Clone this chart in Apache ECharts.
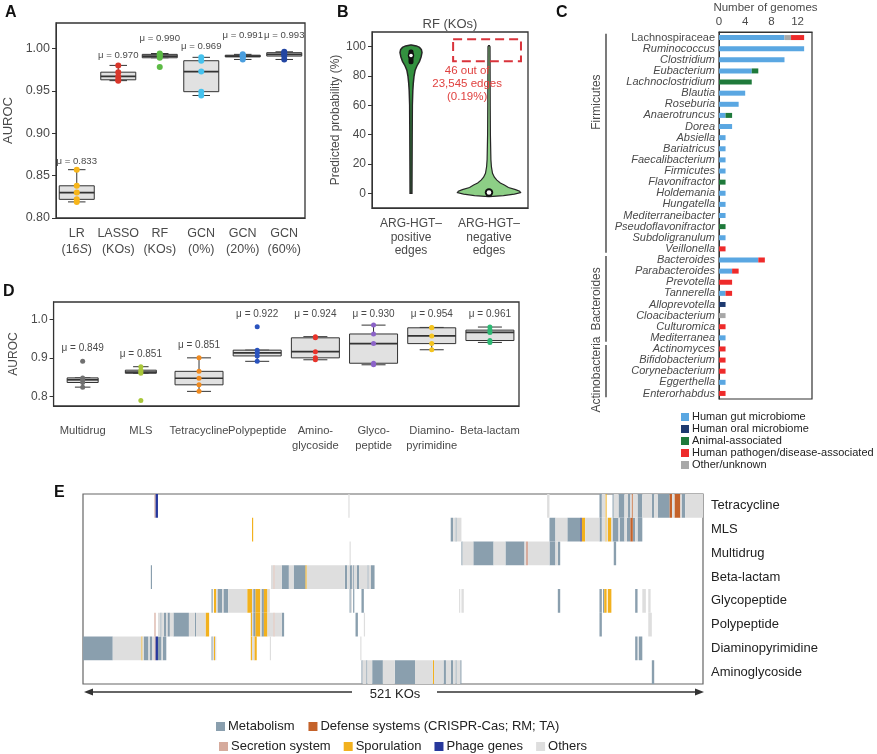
<!DOCTYPE html>
<html><head><meta charset="utf-8">
<script src="https://cdn.jsdelivr.net/npm/echarts@6/dist/echarts.min.js"></script>
<style>html,body{margin:0;padding:0;background:#fff}#c{width:877px;height:754px}</style>
</head><body><div id="c"></div><script>
// ---------------- DATA ----------------
// Panel A
const catsA = ['LR\n(16S)','LASSO\n(KOs)','RF\n(KOs)','GCN\n(0%)','GCN\n(20%)','GCN\n(60%)'];
const pointsA = [
  [0.857,0.838,0.830,0.822,0.819],
  [0.980,0.972,0.967,0.963,0.962],
  [0.994,0.993,0.991,0.989,0.978],
  [0.9895,0.9855,0.9727,0.949,0.9445],
  [0.993,0.992,0.991,0.990,0.987],
  [0.996,0.995,0.993,0.991,0.987]
];
const meansA = [0.833,0.970,0.990,0.969,0.991,0.993];

// Panel B
const catsB = ['ARG-HGT\u2013\npositive\nedges','ARG-HGT\u2013\nnegative\nedges'];
const posLevels  = [0,20,40,60,70,75,80,84,87,90,93,96,98,99.5,100.5,101.2];
const posDensity = [0.016,0.02,0.024,0.03,0.045,0.06,0.085,0.12,0.18,0.26,0.31,0.34,0.32,0.26,0.16,0];
const negLevels  = [-2.3,-1.5,-0.5,0.5,1.5,2.5,4,5.7,7,9,11,13.7,18,23,40,60,80,100,100.8];
const negDensity = [0,0.45,0.8,1,0.97,0.84,0.61,0.48,0.35,0.24,0.16,0.1,0.065,0.048,0.032,0.026,0.023,0.02,0];
const quartB = [[88,94,98],[0,0.6,1.8]];
const highBoxB = [90,105];
const noteB = '46 out of\n23,545 edges\n(0.19%)';

// Panel C
const generaC = ['Lachnospiraceae','Ruminococcus','Clostridium','Eubacterium','Lachnoclostridium','Blautia','Roseburia','Anaerotruncus','Dorea','Absiella','Bariatricus','Faecalibacterium','Firmicutes','Flavonifractor','Holdemania','Hungatella','Mediterraneibacter','Pseudoflavonifractor','Subdoligranulum','Veillonella','Bacteroides','Parabacteroides','Prevotella','Tannerella','Alloprevotella','Cloacibacterium','Culturomica','Mediterranea','Actinomyces','Bifidobacterium','Corynebacterium','Eggerthella','Enterorhabdus'];
const gutC      = [10,13,10,5,0,4,3,1,2,1,1,1,1,0,1,1,1,0,1,0, 6,2,0,1,0,0,0,1, 0,0,0,1,0];
const oralC     = [0,0,0,0,0,0,0,0,0,0,0,0,0,0,0,0,0,0,0,0, 0,0,0,0,1,0,0,0, 0,0,0,0,0];
const animalC   = [0,0,0,1,5,0,0,1,0,0,0,0,0,1,0,0,0,1,0,0, 0,0,0,0,0,0,0,0, 0,0,0,0,0];
const otherC    = [1,0,0,0,0,0,0,0,0,0,0,0,0,0,0,0,0,0,0,0, 0,0,0,0,0,1,0,0, 0,0,0,0,0];
const pathogenC = [2,0,0,0,0,0,0,0,0,0,0,0,0,0,0,0,0,0,0,1, 1,1,2,1,0,0,1,0, 1,1,1,0,1];
const phylaC = [['Firmicutes',0,19,5.8],['Bacteroides',20,27,23.5],['Actinobacteria',28,32,30.3]];
const nonItalicC = ['Lachnospiraceae'];

// Panel D
const catsD = ['Multidrug','MLS','Tetracycline','Polypeptide','Amino-\nglycoside','Glyco-\npeptide','Diamino-\npyrimidine','Beta-lactam'];
const pointsD = [
  [0.891,0.848,0.843,0.836,0.824],
  [0.877,0.868,0.863,0.860,0.789],
  [0.900,0.865,0.847,0.830,0.813],
  [0.981,0.920,0.913,0.905,0.891],
  [0.955,0.952,0.916,0.900,0.895],
  [0.985,0.962,0.937,0.886,0.882],
  [0.979,0.978,0.957,0.937,0.921],
  [0.980,0.972,0.966,0.945,0.940]
];
const meansD = [0.849,0.851,0.851,0.922,0.924,0.930,0.954,0.961];

// Panel E : KO segments per ARG class [startKO, endKO, functionalCategory]
const totalKOs = 521;
const rowsE = ['Tetracycline','MLS','Multidrug','Beta-lactam','Glycopeptide','Polypeptide','Diaminopyrimidine','Aminoglycoside'];
const funcCatsE = ['Metabolism','Defense systems (CRISPR-Cas; RM; TA)','Secretion system','Sporulation','Phage genes','Others'];
const segTetracycline = [[60,61,2],[61,63,4],[223,224,5],[390,392,5],[434,436,0],[436,439,5],[439,440,3],[445,446,0],[446,450,5],[450,455,0],[455,458,5],[458,460,0],[460,461,5],[461,462,1],[462,466,5],[466,470,0],[470,478,5],[478,480,0],[480,483,5],[483,493,0],[493,495,1],[495,497,5],[497,502,1],[502,503,5],[503,506,0],[506,521,5]];
const segMLS = [[142,143,3],[309,311,0],[311,313,5],[313,314,0],[314,318,5],[392,397,0],[397,407,5],[407,418,0],[418,419,4],[419,422,3],[422,434,5],[434,436,0],[436,439,5],[439,440,3],[440,441,5],[441,444,3],[444,445,5],[445,450,0],[450,451,5],[451,455,0],[455,457,5],[457,460,0],[460,462,1],[462,464,0],[464,466,5],[466,470,0]];
const segMultidrug = [[224,225,5],[318,319,0],[319,328,5],[328,345,0],[345,355,5],[355,371,0],[371,372,5],[372,374,2],[374,392,5],[392,397,0],[397,399,5],[399,401,0],[446,448,0]];
const segBetaLactam = [[57,58,0],[158,160,5],[160,161,2],[161,167,5],[167,173,0],[173,177,5],[177,187,0],[187,188,3],[188,220,5],[220,222,0],[222,224,5],[224,226,0],[226,227,5],[227,228,0],[228,230,5],[230,232,0],[232,239,5],[239,240,0],[240,242,5],[242,245,0]];
const segGlycopeptide = [[108,109,0],[110,112,3],[112,113,5],[113,117,0],[117,118,5],[118,122,0],[122,138,5],[138,142,3],[142,143,5],[143,145,0],[145,149,3],[149,150,5],[150,152,0],[152,155,3],[155,157,5],[224,225,0],[225,226,5],[227,228,0],[234,236,0],[316,317,5],[318,320,5],[399,401,0],[434,436,0],[437,438,0],[438,440,3],[441,444,3],[464,466,0],[470,473,5],[475,477,5]];
const segPolypeptide = [[60,61,2],[63,65,5],[65,66,0],[66,68,5],[68,70,0],[70,71,5],[71,73,0],[73,76,5],[76,89,0],[89,94,5],[94,95,0],[95,103,5],[103,106,3],[141,142,3],[142,143,5],[143,145,0],[145,149,3],[149,150,5],[150,152,0],[152,155,3],[155,160,5],[160,161,2],[161,167,5],[167,169,0],[229,231,0],[236,237,5],[434,436,0],[475,478,5]];
const segDiaminopyrimidine = [[0,25,0],[25,49,5],[49,50,3],[50,51,5],[51,55,0],[55,56,5],[56,58,0],[58,60,5],[60,61,2],[61,63,4],[63,66,0],[66,67,5],[67,70,0],[108,109,0],[109,110,5],[110,111,3],[111,112,5],[141,142,3],[142,144,5],[144,146,3],[157,158,5],[233,234,5],[464,466,0],[467,470,0]];
const segAminoglycoside = [[234,235,0],[235,238,5],[238,239,0],[239,243,5],[243,252,0],[252,262,5],[262,279,0],[279,294,5],[294,295,3],[295,303,5],[303,305,0],[305,309,5],[309,311,0],[311,313,5],[313,314,0],[314,317,5],[317,318,0],[478,480,0]];
const segsE = [segTetracycline,segMLS,segMultidrug,segBetaLactam,segGlycopeptide,segPolypeptide,segDiaminopyrimidine,segAminoglycoside];

// ---------------- STYLE ----------------
const FONT = "'Liberation Sans', Arial, Helvetica, sans-serif";
const LBL = '#4a4a4a';
const colorsA = ['#F7B519','#D9372B','#5CBA45','#45C2EE','#4A9EDE','#2346A2'];
const colorsD = ['#707070','#A9C73A','#F08A1E','#2A53BE','#E8342B','#8C63C8','#F4C41F','#2DB873'];
const colorsC = {gut:'#5AA7E2', oral:'#1E3A70', animal:'#1F7A3B', path:'#EE2B2B', other:'#A8A8A8'};
const colorsE = ['#8A9FAE','#C4622A','#D6AB9D','#F2B11E','#27389C','#DEDEDE'];
const liftA = [0.010,0.012,0.018,0.013,0.022,0.019];

function boxStats(pts){
  const s = pts.slice().sort((a,b)=>a-b), n = s.length;
  const q = p => { const h=(n-1)*p, lo=Math.floor(h); return lo+1<n ? s[lo]+(h-lo)*(s[lo+1]-s[lo]) : s[lo]; };
  const q1=q(0.25), md=q(0.5), q3=q(0.75), iqr=q3-q1;
  const lo = s.find(v=>v>=q1-1.5*iqr);
  const hi = s.slice().reverse().find(v=>v<=q3+1.5*iqr);
  return [lo,q1,md,q3,hi];
}
function boxRenderer(widthFn){
  return function(params, api){
    const i = api.value(0);
    const v = [1,2,3,4,5].map(k=>api.value(k));
    const w = widthFn(i);
    const cx = api.coord([i, v[2]])[0];
    const Y = x => api.coord([i, x])[1];
    const ls = {stroke:'#333', lineWidth:1};
    return {type:'group', children:[
      {type:'line', shape:{x1:cx,y1:Y(v[4]),x2:cx,y2:Y(v[3])}, style:ls},
      {type:'line', shape:{x1:cx,y1:Y(v[1]),x2:cx,y2:Y(v[0])}, style:ls},
      {type:'line', shape:{x1:cx-w/4,y1:Y(v[4]),x2:cx+w/4,y2:Y(v[4])}, style:ls},
      {type:'line', shape:{x1:cx-w/4,y1:Y(v[0]),x2:cx+w/4,y2:Y(v[0])}, style:ls},
      {type:'rect', shape:{x:cx-w/2,y:Y(v[3]),width:w,height:Math.max(Y(v[1])-Y(v[3]),1)}, style:{fill:'#e1e1e1',stroke:'#333',lineWidth:1}},
      {type:'line', shape:{x1:cx-w/2,y1:Y(v[2]),x2:cx+w/2,y2:Y(v[2])}, style:{stroke:'#333',lineWidth:1.7}}
    ]};
  };
}
function meanRenderer(fs){
  return function(params, api){
    const p = api.coord([api.value(0), api.value(1)]);
    return {type:'text', x:p[0], y:p[1], style:{text:'\u03bc = '+api.value(2).toFixed(3), align:'center', verticalAlign:'middle', fontSize:fs, fontFamily:FONT, fill:LBL}};
  };
}

// ---------------- SERIES DATA ----------------
const boxA = pointsA.map((p,i)=>[i].concat(boxStats(p)));
const scatA = []; pointsA.forEach((p,i)=>p.forEach(v=>scatA.push([i,v])));
const meanA = meansA.map((m,i)=>[i, Math.max(...pointsA[i]) + liftA[i], m]);

const boxD = pointsD.map((p,i)=>[i].concat(boxStats(p)));
const scatD = []; pointsD.forEach((p,i)=>p.forEach(v=>scatD.push([i,v])));
const meanD = meansD.map((m,i)=>{ const t=Math.max(...pointsD[i]); return [i, t<0.92 ? t+0.033 : 1.013, m]; });
const narrowD = ['Multidrug','MLS'];

const flatE = [];
segsE.forEach((segs,r)=>segs.forEach(s=>flatE.push([s[0],s[1],r,s[2]])));

// ---------------- CHART ----------------
const chart = echarts.init(document.getElementById('c'));
const axisTxt = (fs)=>({fontSize:fs, color:LBL, fontFamily:FONT});

const option = {
  animation:false,
  textStyle:{fontFamily:FONT},
  grid:[
    {left:56, top:23, width:249, height:195, show:true, borderColor:'#333', borderWidth:1.3, backgroundColor:'transparent'},
    {left:372, top:32, width:156, height:176, show:true, borderColor:'#333', borderWidth:1.3, backgroundColor:'transparent'},
    {left:719, top:32, width:93, height:367, show:true, borderColor:'#333', borderWidth:1.2, backgroundColor:'transparent'},
    {left:40, top:302, width:479, height:104, show:true, borderColor:'#333', borderWidth:1.3, backgroundColor:'transparent'},
    {left:83, top:494, width:620, height:190, show:true, borderColor:'#666', borderWidth:1.2, backgroundColor:'transparent'}
  ],
  xAxis:[
    {gridIndex:0, type:'category', data:catsA, axisLine:{onZero:false, lineStyle:{color:'#333'}}, axisTick:{alignWithLabel:true, length:4, lineStyle:{color:'#333'}},
     axisLabel:Object.assign(axisTxt(12.5),{interval:0, margin:8, lineHeight:16, formatter:v=>v.replace('16S','16{i|S}'), rich:{i:{fontStyle:'italic', fontSize:12.5, color:LBL, fontFamily:FONT, lineHeight:16}}})},
    {gridIndex:1, type:'category', data:catsB, axisLine:{onZero:false, lineStyle:{color:'#333'}}, axisTick:{alignWithLabel:true, length:4, lineStyle:{color:'#333'}},
     axisLabel:Object.assign(axisTxt(12),{interval:0, margin:9, lineHeight:13.5})},
    {gridIndex:2, type:'value', position:'top', min:0, max:14.2, interval:2, name:'Number of genomes', nameLocation:'middle', nameGap:18,
     nameTextStyle:axisTxt(11.5), axisLine:{show:true, onZero:false, lineStyle:{color:'#333'}}, axisTick:{length:3, lineStyle:{color:'#333'}}, splitLine:{show:false},
     axisLabel:Object.assign(axisTxt(11.5),{margin:4, showMaxLabel:false, formatter:v=>(v%4===0?String(v):'')})},
    {gridIndex:3, type:'category', data:catsD, axisLine:{onZero:false, lineStyle:{color:'#333'}}, axisTick:{alignWithLabel:true, length:4, lineStyle:{color:'#333'}},
     axisLabel:Object.assign(axisTxt(11.2),{interval:0, margin:17, lineHeight:15})},
    {gridIndex:4, type:'value', min:0, max:totalKOs, show:false}
  ],
  yAxis:[
    {gridIndex:0, type:'value', min:0.80, max:1.03, interval:0.05, name:'AUROC', nameLocation:'middle', nameGap:41, nameTextStyle:axisTxt(13),
     axisLine:{show:true, onZero:false, lineStyle:{color:'#333'}}, axisTick:{show:true, length:4, lineStyle:{color:'#333'}}, splitLine:{show:false},
     axisLabel:Object.assign(axisTxt(12.5),{margin:6, showMaxLabel:false, formatter:v=>v.toFixed(2)})},
    {gridIndex:1, type:'value', min:-10, max:110, splitNumber:6, name:'Predicted probability (%)', nameLocation:'middle', nameGap:30, nameTextStyle:axisTxt(12),
     axisLine:{show:true, onZero:false, lineStyle:{color:'#333'}}, axisTick:{show:true, length:4, lineStyle:{color:'#333'}}, splitLine:{show:false},
     axisLabel:Object.assign(axisTxt(12),{margin:6, showMinLabel:false, showMaxLabel:false})},
    {gridIndex:2, type:'category', data:generaC, inverse:true, axisLine:{show:true, onZero:false, lineStyle:{color:'#333'}}, axisTick:{show:false},
     axisLabel:Object.assign(axisTxt(11),{interval:0, margin:4, formatter:v=>nonItalicC.includes(v)?v:'{i|'+v+'}', rich:{i:{fontStyle:'italic', fontSize:11, color:LBL, fontFamily:FONT}}})},
    {gridIndex:3, type:'value', min:0.775, max:1.045, splitNumber:3, name:'AUROC', nameLocation:'middle', nameGap:26, nameTextStyle:axisTxt(12),
     axisLine:{show:true, onZero:false, lineStyle:{color:'#333'}}, axisTick:{show:true, length:4, lineStyle:{color:'#333'}}, splitLine:{show:false},
     axisLabel:Object.assign(axisTxt(12),{margin:6, showMinLabel:false, showMaxLabel:false, formatter:v=>v.toFixed(1)})},
    {gridIndex:4, type:'category', data:rowsE, inverse:true, position:'right', axisLine:{show:false}, axisTick:{show:false},
     axisLabel:Object.assign({},axisTxt(13),{color:'#222', interval:0, margin:8})}
  ],
  legend:[
    {data:['Human gut microbiome','Human oral microbiome','Animal-associated','Human pathogen/disease-associated','Other/unknown'],
     orient:'vertical', left:676, top:406, itemWidth:8, itemHeight:8, itemGap:0, icon:'rect', selectedMode:false,
     textStyle:{fontSize:11, color:'#222', fontFamily:FONT, lineHeight:12, padding:[0,0,0,-2]}},
    {data:funcCatsE.slice(0,2), left:211, top:715, itemWidth:9, itemHeight:9, itemGap:14, icon:'rect', selectedMode:false,
     textStyle:{fontSize:13, color:'#222', fontFamily:FONT, padding:[0,0,0,-2]}},
    {data:funcCatsE.slice(2), left:214, top:735, itemWidth:9, itemHeight:9, itemGap:13, icon:'rect', selectedMode:false,
     textStyle:{fontSize:13, color:'#222', fontFamily:FONT, padding:[0,0,0,-2]}}
  ],
  series:[]
};

// Panel A
option.series.push({type:'custom', xAxisIndex:0, yAxisIndex:0, data:boxA, encode:{x:0, y:[1,2,3,4,5]}, renderItem:boxRenderer(()=>35), z:2});
option.series.push({type:'scatter', xAxisIndex:0, yAxisIndex:0, data:scatA, symbolSize:6, z:3, itemStyle:{opacity:1, color:p=>colorsA[p.data[0]]}});
option.series.push({type:'custom', xAxisIndex:0, yAxisIndex:0, data:meanA, encode:{x:0, y:1}, renderItem:meanRenderer(9.6), clip:false, z:4});

// Panel B violins
option.series.push({type:'custom', xAxisIndex:1, yAxisIndex:1, data:[[0,0],[1,0]], encode:{x:0,y:1}, z:2, clip:false,
  renderItem:function(params, api){
    const k = params.dataIndex;
    const lv = k===0?posLevels:negLevels, dn = k===0?posDensity:negDensity;
    const half = api.size([1,0])[0]/2*0.8;
    const cx = api.coord([k,0])[0];
    const L=[], R=[];
    for(let i=0;i<lv.length;i++){ const y=api.coord([k,lv[i]])[1]; L.push([cx-dn[i]*half-0.4,y]); R.push([cx+dn[i]*half+0.4,y]); }
    return {type:'polygon', shape:{points:L.concat(R.reverse())}, style:{fill:k===0?'#33913F':'#8DCF86', stroke:'#262626', lineWidth:k===0?1.5:1.2}};
  }});
option.series.push({type:'custom', xAxisIndex:1, yAxisIndex:1, data:quartB.map((q,k)=>[k].concat(q)), encode:{x:0,y:[1,2,3]}, z:3,
  renderItem:function(params, api){
    const k=api.value(0), q1=api.value(1), md=api.value(2), q3=api.value(3);
    const p1=api.coord([k,q3]), p2=api.coord([k,q1]), pm=api.coord([k,md]);
    return {type:'group', children:[
      {type:'rect', shape:{x:p1[0]-2.5, y:p1[1], width:5, height:Math.max(p2[1]-p1[1],1), r:2}, style:{fill:'#111'}},
      {type:'circle', shape:{cx:pm[0], cy:pm[1], r:k===0?3.2:4.2}, style:{fill:'#111'}},
      {type:'circle', shape:{cx:pm[0], cy:pm[1], r:k===0?1.8:2.3}, style:{fill:'#fff'}}
    ]};
  }});
option.series.push({type:'custom', xAxisIndex:1, yAxisIndex:1, data:[[1, highBoxB[0], highBoxB[1]]], encode:{x:0,y:[1,2]}, z:4, clip:false,
  renderItem:function(params, api){
    const band = api.size([1,0])[0];
    const c = api.coord([api.value(0), api.value(2)]), b = api.coord([api.value(0), api.value(1)]);
    const t = api.coord([api.value(0), 74.7]);
    return {type:'group', children:[
      {type:'rect', shape:{x:c[0]-0.46*band, y:c[1], width:0.87*band, height:b[1]-c[1]}, style:{fill:'none', stroke:'#D9333B', lineWidth:2, lineDash:[9,5]}},
      {type:'text', x:t[0]-0.28*band, y:t[1], style:{text:noteB, align:'center', verticalAlign:'middle', fontSize:11.5, lineHeight:12.8, fill:'#E0413F', fontFamily:FONT}}
    ]};
  }});

// Panel C
[['Human gut microbiome',gutC,colorsC.gut],['Human oral microbiome',oralC,colorsC.oral],['Animal-associated',animalC,colorsC.animal],
 ['Other/unknown',otherC,colorsC.other],['Human pathogen/disease-associated',pathogenC,colorsC.path]].forEach(([n,d,c])=>{
  option.series.push({type:'bar', name:n, xAxisIndex:2, yAxisIndex:2, stack:'c', data:d, barWidth:5, itemStyle:{color:c}});
});
option.series.push({type:'custom', xAxisIndex:2, yAxisIndex:2, data:phylaC.map(p=>[0,p[1],p[2],p[3]]), encode:{x:0,y:1}, clip:false, silent:true,
  renderItem:function(params, api){
    const name = phylaC[params.dataIndex][0];
    const band = api.size([0,1])[1];
    const a = api.coord([0, api.value(1)]), b = api.coord([0, api.value(2)]);
    const xl = a[0]-113;
    const yl = a[1] + (api.value(3)-api.value(1))*band;
    return {type:'group', children:[
      {type:'line', shape:{x1:xl, y1:a[1]-0.35*band, x2:xl, y2:b[1]+0.35*band}, style:{stroke:'#333', lineWidth:1.3}},
      {type:'text', x:xl-9, y:yl, rotation:Math.PI/2, style:{text:name, align:'center', verticalAlign:'middle', fontSize:12, fill:LBL, fontFamily:FONT}}
    ]};
  }});

// Panel D
option.series.push({type:'custom', xAxisIndex:3, yAxisIndex:3, data:boxD, encode:{x:0, y:[1,2,3,4,5]}, z:2,
  renderItem:boxRenderer(i=>narrowD.includes(catsD[i])?31:48)});
option.series.push({type:'scatter', xAxisIndex:3, yAxisIndex:3, data:scatD, symbolSize:5, z:3, itemStyle:{opacity:1, color:p=>colorsD[p.data[0]]}});
option.series.push({type:'custom', xAxisIndex:3, yAxisIndex:3, data:meanD, encode:{x:0, y:1}, renderItem:meanRenderer(10), clip:false, z:4});

// Panel E
funcCatsE.forEach((name,ci)=>{
  option.series.push({type:'custom', name:name, xAxisIndex:4, yAxisIndex:4, itemStyle:{color:colorsE[ci]},
    data:flatE.filter(s=>s[3]===ci).map(s=>[s[0],s[1],s[2]]), encode:{x:[0,1], y:2},
    renderItem:function(params, api){
      const r = api.value(2);
      const p1 = api.coord([api.value(0), r]), p2 = api.coord([api.value(1), r]);
      const h = api.size([0,1])[1];
      return {type:'rect', shape:{x:p1[0], y:p1[1]-h/2, width:Math.max(p2[0]-p1[0],1), height:h}, style:{fill:colorsE[ci]}};
    }});
});

// annotations
const letter = (t,x,y)=>({type:'text', left:x, top:y, style:{text:t, fontSize:16, fontWeight:'bold', fill:'#111', fontFamily:FONT}});
option.graphic = [
  letter('A',5,5), letter('B',337,5), letter('C',556,5), letter('D',3,284), letter('E',54,485),
  {type:'text', x:450, y:24, style:{text:'RF (KOs)', align:'center', verticalAlign:'middle', fontSize:13, fill:LBL, fontFamily:FONT}},
  {type:'line', shape:{x1:88, y1:692, x2:352, y2:692}, style:{stroke:'#333', lineWidth:1.6}},
  {type:'line', shape:{x1:437, y1:692, x2:700, y2:692}, style:{stroke:'#333', lineWidth:1.6}},
  {type:'polygon', shape:{points:[[84,692],[93,688.5],[93,695.5]]}, style:{fill:'#333'}},
  {type:'polygon', shape:{points:[[704,692],[695,688.5],[695,695.5]]}, style:{fill:'#333'}},
  {type:'text', x:395, y:694, style:{text:totalKOs+' KOs', align:'center', verticalAlign:'middle', fontSize:13, fill:'#222', fontFamily:FONT}}
];

chart.setOption(option);
</script></body></html>
